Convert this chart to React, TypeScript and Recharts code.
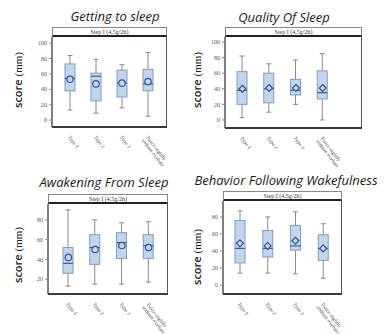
import { Bar, ComposedChart, Scatter, XAxis, YAxis } from 'recharts'

const types = ['Type 1', 'Type 2', 'Type 3', 'Twice-nightly sodium oxybate']

// Getting to sleep
const sleepMin = [13, 9, 16, 5]
const sleepQ1 = [38, 25, 30, 38]
const sleepMed = [54, 57, 48, 47]
const sleepQ3 = [73, 61, 65, 66]
const sleepMax = [84, 79, 72, 88]
const sleepMean = [53, 47, 48, 50]

// Quality Of Sleep
const qualityMin = [3, 10, 20, 0]
const qualityQ1 = [20, 22, 32, 27]
const qualityMed = [38, 40, 38, 35]
const qualityQ3 = [62, 60, 52, 63]
const qualityMax = [82, 72, 77, 85]
const qualityMean = [40, 41, 41, 41]

// Awakening From Sleep
const awakeMin = [13, 15, 15, 17]
const awakeQ1 = [26, 35, 41, 41]
const awakeMed = [36, 52, 57, 54]
const awakeQ3 = [52, 65, 67, 65]
const awakeMax = [90, 80, 77, 78]
const awakeMean = [42, 50, 54, 52]

// Behavior Following Wakefulness
const behavMin = [14, 14, 13, 8]
const behavQ1 = [26, 33, 41, 29]
const behavMed = [43, 43, 46, 43]
const behavQ3 = [76, 64, 70, 59]
const behavMax = [87, 80, 86, 72]
const behavMean = [49, 46, 52, 43]

const ticks100 = [0, 20, 40, 60, 80, 100]
const ticks80 = [0, 20, 40, 60, 80]
const ticks2080 = [20, 40, 60, 80]

const rows = (mn: number[], q1: number[], md: number[], q3: number[], mx: number[], mean: number[]) =>
  types.map((name, i) => ({
    name,
    range: [mn[i], mx[i]],
    min: mn[i],
    q1: q1[i],
    med: md[i],
    q3: q3[i],
    max: mx[i],
    mean: mean[i],
  }))

const BOX_FILL = '#c3d5ea'
const BOX_STROKE = '#7f9cc2'
const MED = '#3d5f8e'
const EXTRA = 40

const BoxShape = (props: any) => {
  const { x, y, width, height, payload } = props
  const top = Math.min(y, y + height)
  const bot = Math.max(y, y + height)
  const span = payload.max - payload.min
  const py = (v: number) => top + ((payload.max - v) / span) * (bot - top)
  const cx = x + width / 2
  return (
    <g>
      <line x1={cx} x2={cx} y1={py(payload.max)} y2={py(payload.q3)} stroke="#8a8a8a" strokeWidth={1} />
      <line x1={cx} x2={cx} y1={py(payload.q1)} y2={py(payload.min)} stroke="#8a8a8a" strokeWidth={1} />
      <line x1={cx - 2.5} x2={cx + 2.5} y1={py(payload.max)} y2={py(payload.max)} stroke="#8a8a8a" />
      <line x1={cx - 2.5} x2={cx + 2.5} y1={py(payload.min)} y2={py(payload.min)} stroke="#8a8a8a" />
      <rect
        x={x}
        y={py(payload.q3)}
        width={width}
        height={py(payload.q1) - py(payload.q3)}
        fill={BOX_FILL}
        stroke={BOX_STROKE}
        strokeWidth={1}
      />
      <line x1={x} x2={x + width} y1={py(payload.med)} y2={py(payload.med)} stroke={MED} strokeWidth={1.2} />
    </g>
  )
}

const circleMean = (props: any) => (
  <circle cx={props.cx} cy={props.cy} r={3.2} fill={BOX_FILL} stroke="#2f5597" strokeWidth={1.2} />
)

const diamondMean = (props: any) => {
  const { cx, cy } = props
  return (
    <path
      d={`M${cx},${cy - 3.5}L${cx + 3.5},${cy}L${cx},${cy + 3.5}L${cx - 3.5},${cy}Z`}
      fill={BOX_FILL}
      stroke="#2f5597"
      strokeWidth={1.2}
    />
  )
}

const TypeTick = (props: any) => {
  const { x, y, payload } = props
  const lines = payload.value === types[3] ? ['Twice-nightly', 'sodium oxybate'] : [payload.value]
  return (
    <g transform={`translate(${x - 1},${y + 1}) rotate(52)`}>
      {lines.map((l, i) => (
        <text
          key={l}
          x={0}
          y={i * 5.3}
          dy={2}
          fontSize={5.3}
          fontFamily="Liberation Serif"
          fill="#444"
          textAnchor="start"
        >
          {l}
        </text>
      ))}
    </g>
  )
}

type PanelProps = {
  left: number
  top: number
  title: string
  titleX: number
  titleY: number
  labelX: number
  labelY: number
  plot: [number, number, number, number]
  domain: [number, number]
  ticks: number[]
  pad: [number, number]
  data: any[]
  mean: 'circle' | 'diamond'
}

const Panel = ({ left, top, title, titleX, titleY, labelX, labelY, plot, domain, ticks, pad, data, mean }: PanelProps) => {
  const [pl, pt, pr, pb] = plot
  return (
    <div style={{ position: 'absolute', left, top, width: 192, height: 167 }}>
      <div
        style={{
          position: 'absolute',
          left: titleX - 150,
          top: titleY - 9,
          width: 300,
          height: 18,
          lineHeight: '18px',
          textAlign: 'center',
          whiteSpace: 'nowrap',
          fontFamily: 'Open Sans',
          fontStyle: 'italic',
          fontSize: 13,
          color: '#1a1a1a',
        }}
      >
        {title}
      </div>
      <div
        style={{
          position: 'absolute',
          left: labelX - 40,
          top: labelY - 8,
          width: 80,
          height: 16,
          lineHeight: '16px',
          textAlign: 'center',
          transform: 'rotate(-90deg)',
          whiteSpace: 'nowrap',
          fontSize: 11,
          color: '#222',
        }}
      >
        <span style={{ fontFamily: 'Open Sans', fontWeight: 600 }}>score </span>
        <span style={{ fontFamily: 'Liberation Serif' }}>(mm)</span>
      </div>
      <div
        style={{
          position: 'absolute',
          left: pl,
          top: pt - 10,
          width: pr - pl,
          height: 10,
          boxSizing: 'border-box',
          border: '1px solid #888',
          borderBottom: '2px solid #222',
          fontFamily: 'Liberation Serif',
          fontSize: 6,
          lineHeight: '8px',
          textAlign: 'center',
          color: '#333',
        }}
      >
        Step I (4.5g/2h)
      </div>
      <div
        style={{
          position: 'absolute',
          left: pr - 1,
          top: pt,
          width: 0,
          height: pb - pt,
          borderLeft: '1px solid #555',
        }}
      />
      <ComposedChart
        width={192}
        height={167 + EXTRA}
        data={data}
        margin={{ top: pt, right: 192 - pr, bottom: EXTRA, left: 0 }}
      >
        <XAxis
          dataKey="name"
          height={167 - pb}
          padding={{ left: pad[0], right: pad[1] }}
          axisLine={{ stroke: '#3a3a3a', strokeWidth: 2 }}
          tickLine={false}
          tick={<TypeTick />}
          interval={0}
        />
        <YAxis
          width={pl}
          domain={domain}
          ticks={ticks}
          allowDataOverflow
          axisLine={{ stroke: '#555', strokeWidth: 1.5 }}
          tickLine={{ stroke: '#888' }}
          tickSize={3}
          tick={{ fontSize: 6, fontFamily: 'Liberation Serif', fill: '#555' }}
        />
        <Bar dataKey="range" barSize={10} shape={<BoxShape />} isAnimationActive={false} />
        <Scatter dataKey="mean" shape={mean === 'circle' ? circleMean : diamondMean} isAnimationActive={false} />
      </ComposedChart>
    </div>
  )
}

export default function App() {
  return (
    <div
      style={{
        position: 'absolute',
        left: 0,
        top: 0,
        width: 384,
        height: 334,
        overflow: 'hidden',
        background: '#fff',
      }}
    >
      <Panel
        left={0}
        top={0}
        title="Getting to sleep"
        titleX={115}
        titleY={16}
        labelX={18}
        labelY={80}
        plot={[52, 37, 167, 127]}
        domain={[-9, 108]}
        ticks={ticks100}
        pad={[5, 6]}
        data={rows(sleepMin, sleepQ1, sleepMed, sleepQ3, sleepMax, sleepMean)}
        mean="circle"
      />
      <Panel
        left={192}
        top={0}
        title="Quality Of Sleep"
        titleX={92}
        titleY={17}
        labelX={5}
        labelY={80}
        plot={[33, 37, 170, 128]}
        domain={[-10.3, 106.4]}
        ticks={ticks100}
        pad={[4, 26]}
        data={rows(qualityMin, qualityQ1, qualityMed, qualityQ3, qualityMax, qualityMean)}
        mean="diamond"
      />
      <Panel
        left={0}
        top={167}
        title="Awakening From Sleep"
        titleX={104}
        titleY={15}
        labelX={18}
        labelY={88}
        plot={[48, 37, 168, 127]}
        domain={[5, 96]}
        ticks={ticks2080}
        pad={[7, 6]}
        data={rows(awakeMin, awakeQ1, awakeMed, awakeQ3, awakeMax, awakeMean)}
        mean="circle"
      />
      <Panel
        left={192}
        top={167}
        title="Behavior Following Wakefulness"
        titleX={94}
        titleY={13}
        labelX={5}
        labelY={90}
        plot={[31, 34, 150, 127]}
        domain={[-10.5, 98.7]}
        ticks={ticks80}
        pad={[3, 5]}
        data={rows(behavMin, behavQ1, behavMed, behavQ3, behavMax, behavMean)}
        mean="diamond"
      />
    </div>
  )
}
